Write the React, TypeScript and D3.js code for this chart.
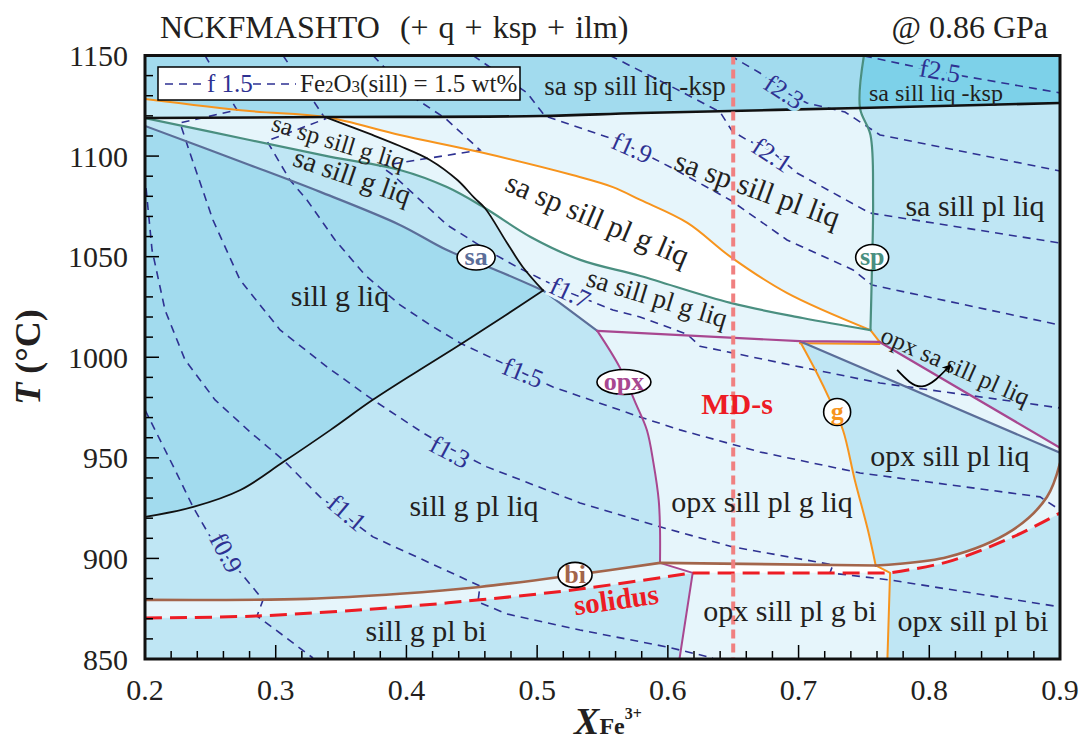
import React from 'react';
import * as d3 from 'd3';

type Pt = [number, number];

// ---------- axes ----------
const xDomain: Pt = [0.2, 0.9];
const tDomain: Pt = [850, 1150];
const xMajorTicks = [0.2, 0.3, 0.4, 0.5, 0.6, 0.7, 0.8, 0.9];
const tMajorTicks = [850, 900, 950, 1000, 1050, 1100, 1150];
const xMinorStep = 0.02;
const tMinorStep = 10;
const mdsX = 0.65;

// ---------- junction points (X, T) ----------
const P0: Pt = [0.338, 1119.4];
const P1: Pt = [0.5045, 1033.2];
const P2: Pt = [0.546, 1013.1];
const P3: Pt = [0.701, 1008.0];
const P4: Pt = [0.762, 1007.6];
const J1: Pt = [0.755, 1013.5];
const G1: Pt = [0.46, 1074.2];
const SPK: Pt = [0.747, 1123.9];
const O2: Pt = [0.594, 897.8];
const G2: Pt = [0.759, 896.5];
const S1: Pt = [0.619, 892.8];
const SG: Pt = [0.77, 892.8];

// ---------- phase boundaries ----------
const kspLine: Pt[] = [[0.2, 1118.9], P0, [0.502, 1119.9], [0.579, 1121.4], SPK, [0.9, 1126.4]];
const orangeLine: Pt[] = [[0.2, 1128.4], [0.28, 1122.4], P0, [0.395, 1110.5], [0.456, 1102], [0.527, 1090.6], [0.558, 1084.6], [0.579, 1078.2], [0.615, 1066.8], [0.648, 1049.9], [0.691, 1032], J1];
const blackUpper: Pt[] = [P0, [0.372, 1111], [0.395, 1105], [0.418, 1098.1], [0.439, 1088.1], [0.452, 1079.2], G1, [0.477, 1056.8], [0.489, 1044.9], P1];
const greenLine: Pt[] = [[0.2, 1118.9], [0.28, 1108], [0.342, 1099.6], [0.395, 1093.1], [0.431, 1084.6], G1, [0.495, 1059.8], [0.533, 1048.4], [0.579, 1040.4], [0.648, 1027], [0.703, 1019.5], J1];
const spLine: Pt[] = [[0.75, 1150], SPK, [0.755, 1110.5], [0.757, 1078.2], [0.756, 1040], J1];
const saLine: Pt[] = [[0.2, 1115], [0.28, 1095.6], [0.334, 1082.2], [0.395, 1065.8], [0.431, 1053.3], [0.472, 1042.4], P1, P2];
const blackLower: Pt[] = [[0.2, 920.6], [0.237, 925.6], [0.273, 934], [0.306, 948], [0.342, 963.9], [0.374, 978.7], [0.41, 993.7], [0.443, 1007.1], [0.475, 1020.5], P1];
const opxTop: Pt[] = [P2, P3, P4];
const opxDiag: Pt[] = [P4, [0.9, 955]];
const saDiag: Pt[] = [P3, [0.9, 952.5]];
const gTop: Pt[] = [J1, P4];
const gUnder: Pt[] = [P3, P4];
const opxLine: Pt[] = [P2, [0.563, 995.2], [0.576, 976.2], [0.584, 963.7], [0.589, 947.4], [0.593, 929], [0.594, 914.2], O2, S1, [0.609, 850.5]];
const gLine: Pt[] = [P3, [0.714, 992.2], [0.724, 978.7], [0.734, 963.7], [0.743, 939], [0.753, 914.2], G2, SG, [0.768, 850.5]];
const biLine: Pt[] = [[0.2, 879.4], [0.324, 879.9], [0.395, 882.4], [0.456, 885.8], [0.529, 891.8], O2, G2, [0.814, 900.7], [0.864, 914.2], [0.89, 930.5], [0.9, 947.4]];
const solidusLine: Pt[] = [[0.2, 870.4], [0.286, 871.4], [0.395, 875.9], [0.456, 879.4], [0.527, 884.3], S1, SG, [0.814, 898.3], [0.864, 910.7], [0.9, 922.6]];

// ---------- Fe2O3(sill) isopleths ----------
const iso09: Pt[] = [[0.2, 973.8], [0.2115, 958.9], [0.223, 944.0], [0.2367, 925.6], [0.2513, 909.2], [0.2727, 893.3], [0.2903, 879.4], [0.2857, 871.4], [0.3071, 861.0], [0.3285, 850.5]];
const iso11: Pt[] = [[0.2008, 1084.1], [0.2054, 1053.3], [0.2153, 1023.5], [0.2306, 998.7], [0.2536, 978.8], [0.2803, 962.9], [0.3056, 949.0], [0.3339, 930.6], [0.3744, 910.7], [0.4127, 899.3], [0.4563, 886.3], [0.4547, 878.4], [0.4769, 872.4], [0.5328, 864.4], [0.5993, 856.0], [0.6345, 850.5]];
const iso13: Pt[] = [[0.2459, 1150], [0.2704, 1122.9], [0.2268, 1116.5], [0.2344, 1101.5], [0.252, 1068.2], [0.2727, 1038.4], [0.3033, 1013.6], [0.3392, 995.2], [0.3744, 978.8], [0.4127, 962.4], [0.431, 955.4], [0.4616, 945.5], [0.5328, 927.6], [0.594, 915.7], [0.6498, 905.7], [0.7263, 896.8], [0.724, 892.8], [0.7699, 889.3], [0.9, 875.9]];
const iso15: Pt[] = [[0.3056, 1150], [0.338, 1118.5], [0.2933, 1107.5], [0.3109, 1088.1], [0.3239, 1078.2], [0.3454, 1058.3], [0.3683, 1040.9], [0.3951, 1026.0], [0.418, 1016.1], [0.441, 1007.1], [0.4716, 997.7], [0.4892, 992.2], [0.5121, 985.2], [0.5787, 970.3], [0.6093, 963.9], [0.6705, 952.9], [0.747, 942.5], [0.8847, 930.6], [0.9, 924.1]];
const iso17: Pt[] = [[0.3744, 1150], [0.405, 1129.4], [0.4295, 1118.9], [0.4563, 1103.0], [0.3798, 1095.1], [0.3897, 1090.6], [0.4104, 1078.2], [0.431, 1065.8], [0.4616, 1053.3], [0.4846, 1044.9], [0.5045, 1038.4], [0.5251, 1032.0], [0.558, 1023.5], [0.5787, 1020.0], [0.6146, 1011.5], [0.6246, 1005.5], [0.7011, 995.2], [0.7623, 987.2], [0.9, 974.8]];
const iso19: Pt[] = [[0.451, 1150], [0.4923, 1131.4], [0.506, 1119.9], [0.5557, 1109.0], [0.5764, 1103.0], [0.6017, 1094.6], [0.6476, 1078.2], [0.6912, 1058.3], [0.7417, 1043.4], [0.7563, 1035.9], [0.9, 1016.0]];
const iso21: Pt[] = [[0.5557, 1150], [0.6062, 1133.4], [0.6399, 1121.9], [0.6491, 1112.5], [0.6606, 1108.0], [0.6782, 1103.0], [0.6988, 1091.6], [0.7546, 1071.7], [0.9, 1056.8]];
const iso23: Pt[] = [[0.6476, 1150], [0.6705, 1141.3], [0.6896, 1131.9], [0.7064, 1126.4], [0.7355, 1121.9], [0.7623, 1110.5], [0.9, 1092.6]];
const iso25: Pt[] = [[0.75, 1149.8], [0.8082, 1141.8], [0.9, 1131.4]];
const isopleths = [iso09, iso11, iso13, iso15, iso17, iso19, iso21, iso23, iso25];

const isoLabels = [
  { text: 'f0.9', X: 0.262, T: 902.8, angle: 62, bg: 'base' },
  { text: 'f1.1', X: 0.3545, T: 922.6, angle: 40, bg: 'base' },
  { text: 'f1.3', X: 0.4333, T: 952.9, angle: 28, bg: 'base' },
  { text: 'f1.5', X: 0.4892, T: 992.2, angle: 22, bg: 'base' },
  { text: 'f1.7', X: 0.5251, T: 1032, angle: 25, bg: 'light' },
  { text: 'f1.9', X: 0.5726, T: 1104, angle: 24, bg: 'light' },
  { text: 'f2.1', X: 0.6797, T: 1100.5, angle: 33, bg: 'light' },
  { text: 'f2.3', X: 0.6889, T: 1131.9, angle: 33, bg: 'dark' },
  { text: 'f2.5', X: 0.8082, T: 1142.3, angle: 10, bg: 'darker' },
];

// ---------- labels ----------
const regionLabels = [
  { text: 'sa sp sill liq -ksp', X: 0.5749, T: 1134.3 },
  { text: 'sa sill liq -ksp', X: 0.8051, T: 1130.9 },
  { text: 'sa sp sill g liq', X: 0.3477, T: 1106.4 },
  { text: 'sa sill g liq', X: 0.3584, T: 1089.5 },
  { text: 'sa sp sill pl g liq', X: 0.5459, T: 1068.2 },
  { text: 'sa sp sill pl liq', X: 0.6683, T: 1083.1 },
  { text: 'sa sill pl liq', X: 0.835, T: 1074.7 },
  { text: 'sa sill pl g liq', X: 0.5917, T: 1029 },
  { text: 'opx sa sill pl liq', X: 0.8197, T: 995.2 },
  { text: 'sill g liq', X: 0.3492, T: 1030 },
  { text: 'opx sill pl liq', X: 0.8158, T: 950.5 },
  { text: 'sill g pl liq', X: 0.4517, T: 925.6 },
  { text: 'opx sill pl g liq', X: 0.672, T: 927.6 },
  { text: 'sill g pl bi', X: 0.415, T: 863.5 },
  { text: 'opx sill pl g bi', X: 0.6934, T: 873.4 },
  { text: 'opx sill pl bi', X: 0.8334, T: 868.4 },
];
const labelSize: Record<string, number> = {
  'sa sp sill liq -ksp': 27, 'sa sill liq -ksp': 24, 'sa sp sill g liq': 25, 'sa sill g liq': 28,
  'sa sill pl g liq': 27, 'opx sa sill pl liq': 25,
};
const labelAngle: Record<string, number> = {
  'sa sp sill g liq': 17, 'sa sill g liq': 19, 'sa sp sill pl g liq': 23, 'sa sp sill pl liq': 20,
  'sa sill pl g liq': 17, 'opx sa sill pl liq': 24,
};

const ellipseLabels = [
  { text: 'sa', X: 0.4533, T: 1049.6 },
  { text: 'sp', X: 0.7563, T: 1049.6 },
  { text: 'opx', X: 0.5664, T: 987.7 },
  { text: 'g', X: 0.7295, T: 972.8 },
  { text: 'bi', X: 0.529, T: 891.8 },
];
const mdsLabel = { text: 'MD-s', X: 0.653, T: 977.2 };
const solidusLabel = { text: 'solidus', X: 0.5605, T: 879.0 };
const arrowPts: Pt[] = [[0.7754, 993.7], [0.7945, 985.5], [0.8159, 995.9]];

// ---------- styles ----------
const C = {
  base: '#bfe6f4', dark: '#a2dbee', darker: '#7dd1e9', light: '#e6f5fb', white: '#ffffff', strip: '#c6eaf6',
  navy: '#2e3192', orange: '#f7941d', green: '#4a8f80', slate: '#5b6e99', magenta: '#a84790',
  brown: '#a3654b', red: '#ed1c24', pink: '#f08080', text: '#231f20',
};
const ellipseStyle: Record<string, { color: string; rx: number; ry: number }> = {
  sa: { color: C.slate, rx: 19, ry: 12.5 },
  sp: { color: C.green, rx: 16.5, ry: 13 },
  opx: { color: C.magenta, rx: 27, ry: 12.5 },
  g: { color: C.orange, rx: 13.5, ry: 13.5 },
  bi: { color: C.brown, rx: 17, ry: 12.5 },
};

const seg = (arr: Pt[], a: Pt, b: Pt) => arr.slice(arr.indexOf(a), arr.indexOf(b) + 1);
const rev = (arr: Pt[]) => [...arr].reverse();
const first = (arr: Pt[]) => arr[0];
const last = (arr: Pt[]) => arr[arr.length - 1];

const FONT = '"Liberation Serif", "Times New Roman", serif';

type Piece = { pts: Pt[]; smooth: boolean };
const S = (pts: Pt[]): Piece => ({ pts, smooth: true });
const L = (pts: Pt[]): Piece => ({ pts, smooth: false });

export default function App() {
  const left = 145, right = 1060, top = 55.5, bottom = 659;
  const x = d3.scaleLinear().domain(xDomain).range([left, right]);
  const y = d3.scaleLinear().domain(tDomain).range([bottom, top]);
  const lin = d3.line<Pt>().x((d) => x(d[0])).y((d) => y(d[1]));
  const smo = d3.line<Pt>().x((d) => x(d[0])).y((d) => y(d[1])).curve(d3.curveCatmullRom.alpha(0.5));
  const piecePath = (p: Piece) => (p.smooth ? smo(p.pts) : lin(p.pts)) || '';
  const pathOf = (pieces: Piece[]) =>
    pieces.map((p, i) => (i === 0 ? piecePath(p) : piecePath(p).replace(/^M/, 'L'))).join('') + 'Z';

  const cTL: Pt = [xDomain[0], tDomain[1]];
  const cTR: Pt = [xDomain[1], tDomain[1]];
  const xMin = xDomain[0], xMax = xDomain[1], tMin = tDomain[0];

  const regions: { pieces: Piece[]; fill: string }[] = [
    { pieces: [L([cTL, cTR]), S(rev(kspLine))], fill: C.dark },
    { pieces: [L([first(spLine), cTR, last(kspLine), SPK])], fill: C.darker },
    { pieces: [S(seg(orangeLine, first(orangeLine), P0)), S(rev(seg(kspLine, first(kspLine), P0)))], fill: C.strip },
    { pieces: [S(seg(saLine, first(saLine), P1)), S(rev(blackLower))], fill: C.dark },
    { pieces: [S(seg(kspLine, first(kspLine), P0)), S(seg(blackUpper, P0, G1)), S(rev(seg(greenLine, first(greenLine), G1)))], fill: C.light },
    { pieces: [S(seg(kspLine, P0, SPK)), S(seg(spLine, SPK, J1)), S(rev(seg(orangeLine, P0, J1)))], fill: C.light },
    { pieces: [S(seg(orangeLine, P0, J1)), S(rev(seg(greenLine, G1, J1))), S(rev(seg(blackUpper, P0, G1)))], fill: C.white },
    { pieces: [S(seg(greenLine, G1, J1)), L([J1, P4, P3, P2, P1]), S(rev(seg(blackUpper, G1, P1)))], fill: C.light },
    { pieces: [L([P3, P4, last(opxDiag), last(saDiag)])], fill: C.light },
    { pieces: [L([P2, P3]), S(seg(gLine, P3, G2)), L([G2, O2]), S(rev(seg(opxLine, P2, O2)))], fill: C.light },
    { pieces: [S(seg(biLine, first(biLine), O2)), L([O2, G2]), S(seg(biLine, G2, last(biLine))), S(rev(seg(solidusLine, SG, last(solidusLine)))), L([SG, S1]), S(rev(seg(solidusLine, first(solidusLine), S1)))], fill: C.light },
    { pieces: [L([O2, G2, SG, S1])], fill: C.white },
    { pieces: [L([S1, SG]), L(seg(gLine, SG, last(gLine))), L([last(gLine), last(opxLine), S1])], fill: C.light },
  ];

  const boundaries: { piece: Piece; color: string; w: number; dy?: number }[] = [
    { piece: L(gUnder), color: C.orange, w: 2, dy: 2 },
    { piece: S(orangeLine), color: C.orange, w: 2 },
    { piece: L(gTop), color: C.orange, w: 2 },
    { piece: S(seg(gLine, P3, G2)), color: C.orange, w: 2 },
    { piece: L(seg(gLine, G2, last(gLine))), color: C.orange, w: 2 },
    { piece: S(greenLine), color: C.green, w: 2.2 },
    { piece: S(spLine), color: C.green, w: 2.2 },
    { piece: S(seg(saLine, first(saLine), P1)), color: C.slate, w: 2.2 },
    { piece: L([P1, P2]), color: C.slate, w: 2.2 },
    { piece: L(saDiag), color: C.slate, w: 2.2 },
    { piece: L(opxTop), color: C.magenta, w: 2.2 },
    { piece: L(opxDiag), color: C.magenta, w: 2.2 },
    { piece: S(seg(opxLine, P2, O2)), color: C.magenta, w: 2 },
    { piece: L(seg(opxLine, O2, last(opxLine))), color: C.magenta, w: 2 },
    { piece: S(blackUpper), color: '#111', w: 1.8 },
    { piece: S(blackLower), color: '#111', w: 1.8 },
    { piece: S(kspLine), color: '#111', w: 2.6 },
    { piece: S(seg(biLine, first(biLine), O2)), color: C.brown, w: 2.6 },
    { piece: L([O2, G2]), color: C.brown, w: 2.6 },
    { piece: S(seg(biLine, G2, last(biLine))), color: C.brown, w: 2.6 },
  ];
  const solidusPath = [
    S(seg(solidusLine, first(solidusLine), S1)),
    L([S1, SG]),
    S(seg(solidusLine, SG, last(solidusLine))),
  ].map((p, i) => (i === 0 ? piecePath(p) : piecePath(p).replace(/^M[^LC]*/, ''))).join('');

  const xMinor = d3.range(xMin, xMax + 1e-9, xMinorStep);
  const tMinor = d3.range(tMin, tDomain[1] + 1e-9, tMinorStep);
  const isMajorX = (v: number) => xMajorTicks.some((m) => Math.abs(m - v) < 1e-6);
  const isMajorT = (v: number) => tMajorTicks.some((m) => Math.abs(m - v) < 1e-6);
  const bgColor = (k: string) => (C as any)[k];

  return (
    <svg width={1085} height={742} style={{ position: 'absolute', left: 0, top: 0, background: '#fff' }} fontFamily={FONT}>
      <defs>
        <clipPath id="plot">
          <rect x={left} y={top} width={right - left} height={bottom - top} />
        </clipPath>
        <marker id="arrowhead" viewBox="0 0 10 10" refX="8" refY="5" markerWidth="5" markerHeight="5" orient="auto">
          <path d="M0,0 L10,5 L0,10 L3,5 Z" fill="#000" />
        </marker>
      </defs>
      <rect x={0} y={0} width={1085} height={742} fill="#fff" />

      <g clipPath="url(#plot)">
        <rect x={left} y={top} width={right - left} height={bottom - top} fill={C.base} />
        {regions.map((r, i) => (
          <path key={i} d={pathOf(r.pieces)} fill={r.fill} stroke={r.fill} strokeWidth={0.5} />
        ))}
        {isopleths.map((iso, i) => (
          <path key={i} d={lin(iso) || ''} fill="none" stroke={C.navy} strokeWidth={1.6} strokeDasharray="8,6" />
        ))}
        {boundaries.map((b, i) => (
          <path key={i} d={piecePath(b.piece)} fill="none" stroke={b.color} strokeWidth={b.w}
            transform={b.dy ? `translate(0,${b.dy})` : undefined} strokeLinejoin="round" strokeLinecap="round" />
        ))}
        <path d={solidusPath} fill="none" stroke={C.red} strokeWidth={3} strokeDasharray="17,8" />
        <line x1={x(mdsX)} x2={x(mdsX)} y1={top} y2={bottom} stroke={C.pink} strokeWidth={4} strokeDasharray="9,5" />

        {isoLabels.map((l, i) => (
          <text key={i} transform={`translate(${x(l.X)},${y(l.T)}) rotate(${l.angle})`} textAnchor="middle" dy="0.33em"
            fontSize={26} fill={C.navy} stroke={bgColor(l.bg)} strokeWidth={6} paintOrder="stroke">{l.text}</text>
        ))}

        {regionLabels.map((l, i) => (
          <text key={i} transform={`translate(${x(l.X)},${y(l.T)}) rotate(${labelAngle[l.text] || 0})`} textAnchor="middle"
            dy="0.3em" fontSize={labelSize[l.text] || 30} fill={C.text}>{l.text}</text>
        ))}

        <path d={d3.line<Pt>().x((d) => x(d[0])).y((d) => y(d[1])).curve(d3.curveNatural)(arrowPts) || ''} fill="none"
          stroke="#000" strokeWidth={1.8} markerEnd="url(#arrowhead)" />

        {ellipseLabels.map((l, i) => {
          const s = ellipseStyle[l.text];
          return (
            <g key={i} transform={`translate(${x(l.X)},${y(l.T)})`}>
              <ellipse rx={s.rx} ry={s.ry} fill="#fff" stroke="#000" strokeWidth={1.6} />
              <text textAnchor="middle" dy="0.3em" fontSize={26} fontWeight="bold" fill={s.color}>{l.text}</text>
            </g>
          );
        })}

        <text x={x(mdsLabel.X)} y={y(mdsLabel.T)} dy="0.35em" textAnchor="middle" fontSize={30} fontWeight="bold" fill={C.red}>{mdsLabel.text}</text>
        <text transform={`translate(${x(solidusLabel.X)},${y(solidusLabel.T)}) rotate(-8)`} dy="0.3em" textAnchor="middle"
          fontSize={29} fontWeight="bold" fill={C.red}>{solidusLabel.text}</text>
      </g>

      {/* legend */}
      <g>
        <rect x={158} y={67} width={362} height={33} fill="#fff" stroke="#000" strokeWidth={1.5} />
        <line x1={165} x2={204} y1={84} y2={84} stroke={C.navy} strokeWidth={1.6} strokeDasharray="8,6" />
        <text x={207} y={92} fontSize={25} fill={C.navy}>f 1.5</text>
        <line x1={253} x2={296} y1={84} y2={84} stroke={C.navy} strokeWidth={1.6} strokeDasharray="8,6" />
        <text x={300} y={92} fontSize={25} fill={C.text}>
          Fe<tspan fontSize={17}>2</tspan>O<tspan fontSize={17}>3</tspan>(sill) = 1.5 wt%
        </text>
      </g>

      {/* frame & ticks */}
      {xMinor.map((v, i) => (
        <line key={'xt' + i} x1={x(v)} x2={x(v)} y1={bottom} y2={bottom - (isMajorX(v) ? 14 : 8)} stroke="#000" strokeWidth={1.5} />
      ))}
      {tMinor.map((v, i) => (
        <line key={'yt' + i} x1={left} x2={left + (isMajorT(v) ? 14 : 8)} y1={y(v)} y2={y(v)} stroke="#000" strokeWidth={1.5} />
      ))}
      <rect x={left} y={top} width={right - left} height={bottom - top} fill="none" stroke="#111" strokeWidth={3} />

      {xMajorTicks.map((v) => (
        <text key={'xl' + v} x={x(v)} y={700} textAnchor="middle" fontSize={30} fill={C.text}>{v.toFixed(1)}</text>
      ))}
      {tMajorTicks.map((v) => (
        <text key={'yl' + v} x={128} y={y(v)} dy="0.35em" textAnchor="end" fontSize={30} fill={C.text}>{v}</text>
      ))}

      {/* titles */}
      <text x={160} y={38} fontSize={32} wordSpacing={2} fill={C.text} style={{ whiteSpace: 'pre' }}>{'NCKFMASHTO  (+ q + ksp + ilm)'}</text>
      <text x={1048} y={38} fontSize={32} fill={C.text} textAnchor="end">@ 0.86 GPa</text>
      <text transform="translate(40,357) rotate(-90)" textAnchor="middle" fontSize={36} fontWeight="bold" fill={C.text}>
        <tspan fontStyle="italic">T</tspan> (°C)
      </text>
      <text x={608} y={734} textAnchor="middle" fontWeight="bold" fill={C.text}>
        <tspan fontSize={38} fontStyle="italic">X</tspan>
        <tspan fontSize={24}>Fe</tspan>
        <tspan fontSize={16} dy={-15}>3+</tspan>
      </text>
    </svg>
  );
}
